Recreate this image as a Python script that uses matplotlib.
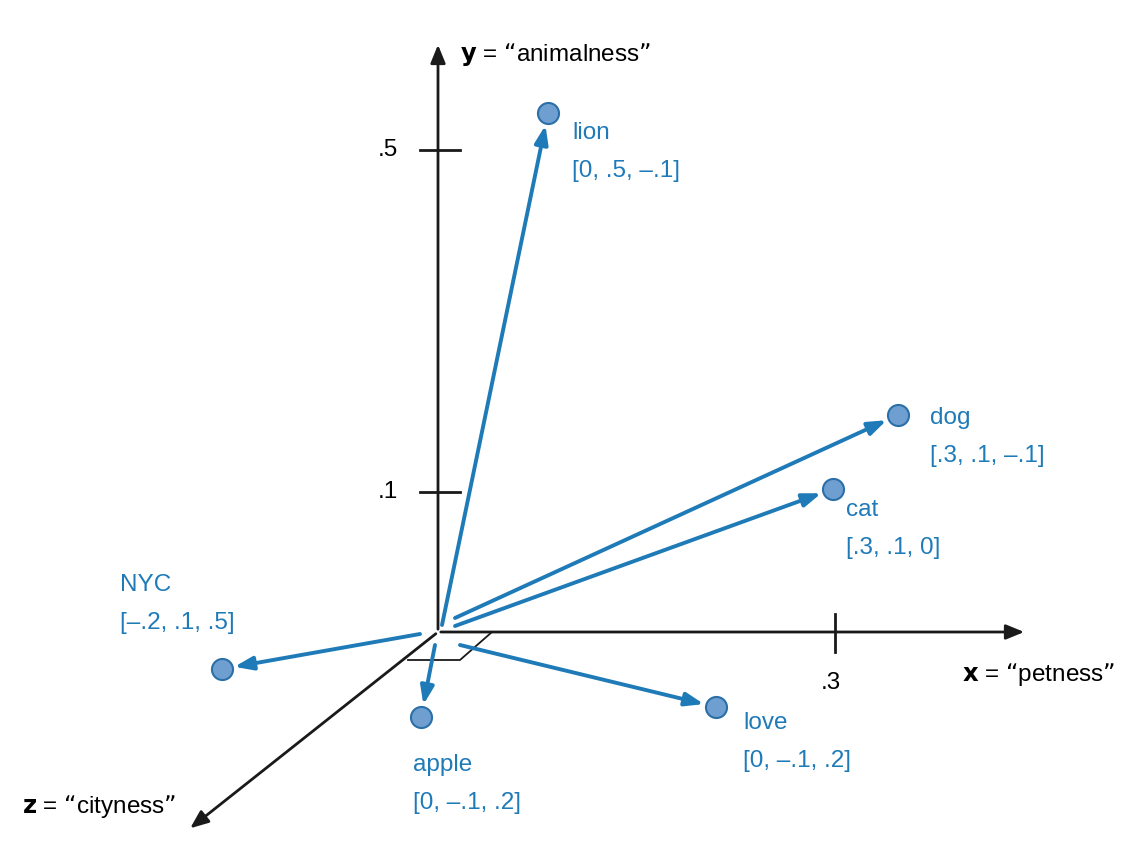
import matplotlib
matplotlib.use("Agg")
import matplotlib.pyplot as plt

plt.rcParams['font.family'] = ['Liberation Sans', 'DejaVu Sans']

# words, their vectors and where they land in the drawn projection (pixel units)
words = ["lion", "dog", "cat", "NYC", "apple", "love"]
vectors = ["[0, .5, \u2013.1]", "[.3, .1, \u2013.1]", "[.3, .1, 0]",
           "[\u2013.2, .1, .5]", "[0, \u2013.1, .2]", "[0, \u2013.1, .2]"]
tip_x = [548, 898, 833, 222, 421, 716]
tip_y = [113, 415, 489, 669, 717, 707]
start_x = [442, 455, 455, 420, 435, 460]
start_y = [625, 618, 626, 634, 645, 645]
label_x = [572, 930, 846, 120, 413, 743]
label_y = [133, 418, 510, 585, 765, 723]

origin = (438, 632)
x_end, y_end, z_end = (1027, 632), (438, 42), (188, 830)
y_ticks = [150, 492]
y_tick_labels = [".5", ".1"]
x_ticks = [835]
x_tick_labels = [".3"]

blue = "#1f7ab8"
fs = 17.5
fig = plt.figure(figsize=(11.42, 8.66), dpi=100)
ax = fig.add_axes([0, 0, 1, 1])
ax.set_xlim(0, 1142)
ax.set_ylim(866, 0)
ax.axis("off")

ak = dict(arrowstyle="-|>,head_length=1.1,head_width=0.45", color="#1a1a1a", lw=2)
for end in (x_end, y_end, z_end):
    ax.annotate("", xy=end, xytext=origin, arrowprops=ak)

for t in y_ticks:
    ax.plot([420, 460], [t, t], color="#1a1a1a", lw=2)
for t, lab in zip(y_ticks, y_tick_labels):
    ax.text(398, t, lab, fontsize=fs, ha="right", va="center")
for t, lab in zip(x_ticks, x_tick_labels):
    ax.plot([t, t], [614, 652], color="#1a1a1a", lw=2)
    ax.text(t - 4, 683, lab, fontsize=fs, ha="center", va="center")

# little floor parallelogram near origin
ax.plot([408, 460, 492], [660, 660, 632], color="#1a1a1a", lw=1.3)

ax.text(460, 55, r"$\mathbf{y}$" + " = \u201canimalness\u201d", fontsize=fs, va="center")
ax.text(962, 675, r"$\mathbf{x}$" + " = \u201cpetness\u201d", fontsize=fs, va="center")
ax.text(22, 806, r"$\mathbf{z}$" + " = \u201ccityness\u201d", fontsize=fs, va="center")

ab = dict(arrowstyle="-|>,head_length=1.1,head_width=0.4", color=blue, lw=2.8,
          shrinkA=0, shrinkB=9)
for sx, sy, tx, ty in zip(start_x, start_y, tip_x, tip_y):
    ax.annotate("", xy=(tx, ty), xytext=(sx, sy), arrowprops=ab)
ax.scatter(tip_x, tip_y, s=230, color="#6f9fd0", edgecolor="#2b6fa8", lw=1.5, zorder=5)

for w, v, lx, ly in zip(words, vectors, label_x, label_y):
    ax.text(lx, ly, w, color=blue, fontsize=fs, va="center")
    ax.text(lx, ly + 38, v, color=blue, fontsize=fs, va="center")

fig.savefig("out.png", dpi=100, facecolor="white")
